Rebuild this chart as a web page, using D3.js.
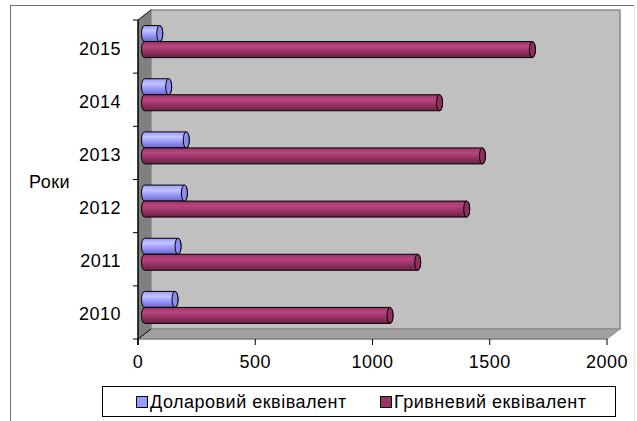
<!DOCTYPE html>
<html>
<head>
<meta charset="utf-8">
<script src="https://cdn.jsdelivr.net/npm/d3@7/dist/d3.min.js"></script>
<style>
  html, body { margin: 0; padding: 0; background: #fff; }
  svg { display: block; font-family: "Liberation Sans", Arial, sans-serif; }
  svg text { letter-spacing: 0.5px; }
</style>
</head>
<body>
<svg id="chart" width="637" height="421"></svg>
<script>
// Years, listed bottom to top
const years = ["2010", "2011", "2012", "2013", "2014", "2015"];
const seriesNames = ["Доларовий еквівалент", "Гривневий еквівалент"];
const dollarValues = [130, 143, 170, 178, 103, 65];
const hryvniaValues = [1047, 1165, 1374, 1441, 1258, 1654];
const xTicks = [0, 500, 1000, 1500, 2000];
const axisTitle = "Роки";

const svg = d3.select("#chart");
const fontSize = 18;

// Front plane of the 3D box, and the depth offset to the back wall
const front = { left: 138, right: 607, top: 20, bottom: 339 };
const depth = { dx: 13, dy: -10 };

const x = d3.scaleLinear().domain([0, 2000]).range([front.left, front.right]);
const y = d3.scaleBand().domain(years.slice().reverse()).range([front.top, front.bottom]);
const sub = d3.scaleBand().domain(seriesNames).range([-16, 16]);

const colors = {
  [seriesNames[0]]: { base: "#9999FF", light: "#C4C4FF", dark: "#6868C8", cap: "#8C8CF0" },
  [seriesNames[1]]: { base: "#993366", light: "#B9467F", dark: "#6A2246", cap: "#8E2F5E" }
};

// Outer frame
svg.append("rect")
  .attr("x", 10.5).attr("y", 5.5).attr("width", 624).attr("height", 430)
  .attr("fill", "#fff").attr("stroke", "#6e6e6e").attr("stroke-width", 1);
svg.append("line")
  .attr("x1", 634.5).attr("x2", 634.5).attr("y1", 5).attr("y2", 421)
  .attr("stroke", "#e4e4e4");

// Gradients for the cylinders
const defs = svg.append("defs");
seriesNames.forEach((s, i) => {
  const c = colors[s];
  const g = defs.append("linearGradient").attr("id", "cyl" + i)
    .attr("x1", 0).attr("y1", 0).attr("x2", 0).attr("y2", 1);
  g.append("stop").attr("offset", "0%").attr("stop-color", c.base);
  g.append("stop").attr("offset", "30%").attr("stop-color", c.light);
  g.append("stop").attr("offset", "60%").attr("stop-color", c.base);
  g.append("stop").attr("offset", "100%").attr("stop-color", c.dark);
});

const x0 = x(0), x1 = x(2000), yT = front.top, yB = front.bottom;

// Back wall
svg.append("rect")
  .attr("x", x0 + depth.dx).attr("y", yT + depth.dy)
  .attr("width", x1 - x0).attr("height", yB - yT)
  .attr("fill", "#C0C0C0").attr("stroke", "#8a8a8a").attr("stroke-width", 1.5);

// Side wall
svg.append("path")
  .attr("d", `M${x0},${yT} L${x0 + depth.dx},${yT + depth.dy} L${x0 + depth.dx},${yB + depth.dy} L${x0},${yB} Z`)
  .attr("fill", "#808080");
svg.append("line")
  .attr("x1", x0).attr("y1", yT).attr("x2", x0 + depth.dx).attr("y2", yT + depth.dy)
  .attr("stroke", "#000").attr("stroke-width", 1);

// Floor
svg.append("path")
  .attr("d", `M${x0},${yB} L${x0 + depth.dx},${yB + depth.dy} L${x1 + depth.dx},${yB + depth.dy} L${x1},${yB} Z`)
  .attr("fill", "#A0A0A0").attr("stroke", "#8a8a8a").attr("stroke-width", 1);
svg.append("line")
  .attr("x1", x0).attr("y1", yB).attr("x2", x0 + depth.dx).attr("y2", yB + depth.dy)
  .attr("stroke", "#000").attr("stroke-width", 1);
svg.append("line")
  .attr("x1", x0).attr("y1", yB).attr("x2", x1).attr("y2", yB)
  .attr("stroke", "#777").attr("stroke-width", 1);

// Cylinders sit halfway into the box
const mid = { dx: depth.dx / 2, dy: depth.dy / 2 };
const rx = 3;
const rows = years.map((yr, i) => ({ year: yr, values: [dollarValues[i], hryvniaValues[i]] }));

const bars = svg.append("g");
rows.forEach(row => {
  row.values.forEach((v, si) => {
    const s = seriesNames[si];
    const cy = y(row.year) + y.bandwidth() / 2 + mid.dy;
    const top = cy + sub(s);
    const h = sub.bandwidth();
    const bot = top + h;
    const ry = h / 2;
    const xs = x(0) + mid.dx;
    const xe = x(v) + mid.dx;
    bars.append("path")
      .attr("d", `M${xs},${top} L${xe},${top} A${rx},${ry} 0 0 1 ${xe},${bot} L${xs},${bot} A${rx},${ry} 0 0 1 ${xs},${top} Z`)
      .attr("fill", `url(#cyl${si})`).attr("stroke", "#000").attr("stroke-width", 1);
    bars.append("ellipse")
      .attr("cx", xe).attr("cy", top + ry).attr("rx", rx).attr("ry", ry)
      .attr("fill", colors[s].cap).attr("stroke", "#000").attr("stroke-width", 1);
  });
});

// Category axis
svg.append("line")
  .attr("x1", x0).attr("x2", x0).attr("y1", yT).attr("y2", yB + 6)
  .attr("stroke", "#000").attr("stroke-width", 1.5);
const yAxis = svg.append("g");
years.slice().reverse().forEach(yr => {
  yAxis.append("line")
    .attr("x1", x0 - 5).attr("x2", x0).attr("y1", y(yr)).attr("y2", y(yr))
    .attr("stroke", "#000");
});
yAxis.append("line")
  .attr("x1", x0 - 5).attr("x2", x0).attr("y1", yB).attr("y2", yB).attr("stroke", "#000");
yAxis.selectAll("text").data(years).join("text")
  .attr("x", 121).attr("y", d => y(d) + y.bandwidth() / 2 + 8)
  .attr("text-anchor", "end").attr("font-size", fontSize).attr("fill", "#000")
  .text(d => d);
svg.append("text")
  .attr("x", 29).attr("y", 188).attr("font-size", fontSize).attr("fill", "#000")
  .text(axisTitle);

// Value axis
const xAxis = svg.append("g");
xTicks.forEach(t => {
  xAxis.append("line")
    .attr("x1", x(t)).attr("x2", x(t)).attr("y1", yB).attr("y2", yB + 6)
    .attr("stroke", "#000");
  xAxis.append("text")
    .attr("x", x(t)).attr("y", 368).attr("text-anchor", "middle")
    .attr("font-size", fontSize).attr("fill", "#000").text(t);
});

// Legend
const legend = svg.append("g");
legend.append("rect")
  .attr("x", 102.5).attr("y", 386.5).attr("width", 513).attr("height", 30)
  .attr("fill", "#fff").attr("stroke", "#000").attr("stroke-width", 1);
const legendX = [136, 380];
seriesNames.forEach((s, i) => {
  legend.append("rect")
    .attr("x", legendX[i] + 0.5).attr("y", 396.5).attr("width", 11).attr("height", 11)
    .attr("fill", colors[s].base).attr("stroke", "#000");
  legend.append("text")
    .attr("x", legendX[i] + 14).attr("y", 408).attr("font-size", fontSize).attr("fill", "#000")
    .text(s);
});
</script>
</body>
</html>
